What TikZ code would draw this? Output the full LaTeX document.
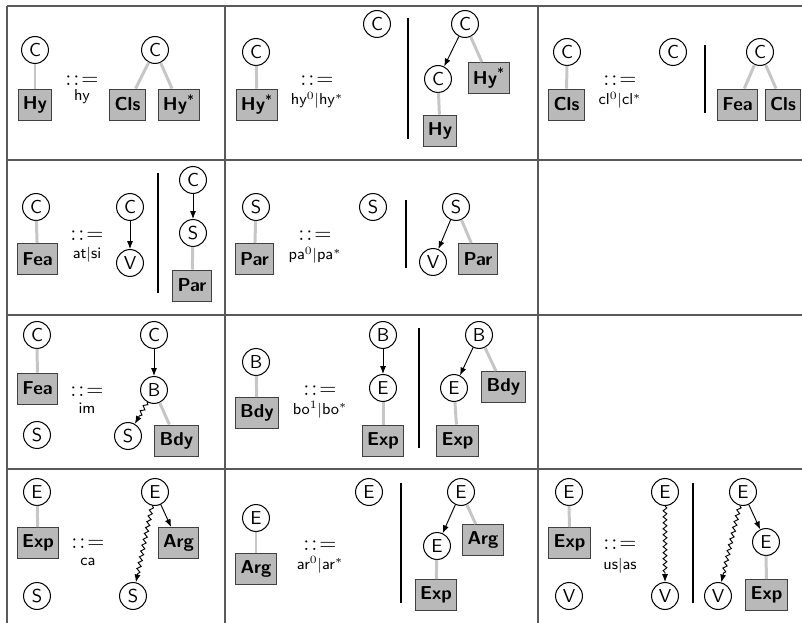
\documentclass[tikz,border=0pt]{standalone}
\usepackage{amsmath}
\usetikzlibrary{arrows.meta,decorations.pathmorphing}
\tikzset{
  nd/.style={circle,draw,line width=0.55pt,minimum size=14.4pt,inner sep=0pt,font=\sffamily},
  bx/.style={rectangle,draw=black!75,line width=0.5pt,fill=gray!55,minimum height=16.6pt,inner xsep=2.6pt,inner ysep=0pt,font=\sffamily\bfseries},
  tr/.style={draw=gray!45,line width=1.6pt},
  ar/.style={draw,line width=0.5pt,-{Latex[length=4.2pt,width=3.2pt]}},
  wv/.style={draw,line width=0.5pt,-{Latex[length=4.2pt,width=3.2pt]},decorate,decoration={snake,amplitude=1pt,segment length=3.2pt,post length=4.5pt}},
  br/.style={draw,line width=1.35pt},
  grd/.style={draw=black!65,line width=0.6pt},
  op/.style={inner sep=0pt,font=\large},
  lb/.style={inner sep=0pt,anchor=base,font=\fontsize{8.5}{10}\selectfont\sffamily}
}
\newcommand{\hs}{\textsuperscript{\mdseries *}}
\newcommand{\prodsym}{$:\mkern1.5mu:\mkern1.5mu=$}
\begin{document}
\begin{tikzpicture}[x=0.535pt,y=-0.535pt]
\useasboundingbox (0,0) rectangle (802,623);
% grid
\draw[grd] (7,6) -- (802,6);
\draw[grd] (7,160) -- (802,160);
\draw[grd] (7,315) -- (802,315);
\draw[grd] (7,469) -- (802,469);
\draw[grd] (7,6) -- (7,623);
\draw[grd] (225,6) -- (225,623);
\draw[grd] (538,6) -- (538,623);

% ---------- row 1 cell 1
\node[nd] (r1a) at (35,50) {C};
\node[bx] (r1b) at (35,104.5) {Hy};
\draw[tr] (r1a) -- (r1b);
\node[op] (r1o) at (82,81) {\prodsym};
\node[lb] (r1l) at (82,101) {hy};
\node[nd] (r1c) at (155,50) {C};
\node[bx] (r1d) at (127.5,104.5) {Cls};
\node[bx] (r1e) at (179,104.5) {Hy\hs};
\draw[tr] (r1c) -- (r1d);
\draw[tr] (r1c) -- (r1e);

% ---------- row 1 cell 2
\node[nd] (r2a) at (256,52) {C};
\node[bx] (r2b) at (257,104.5) {Hy\hs};
\draw[tr] (r2a) -- (r2b);
\node[op] (r2o) at (317,81) {\prodsym};
\node[lb] (r2l) at (317,105) {hy$^0|$hy$^*$};
\node[nd] (r2c) at (377,24) {C};
\coordinate (r2p) at (408,18); \coordinate (r2q) at (408,139);
\draw[br] (r2p) -- (r2q);
\node[nd] (r2d) at (465,24) {C};
\node[nd] (r2e) at (438,79) {C};
\node[bx] (r2f) at (489,78) {Hy\hs};
\node[bx] (r2g) at (440,130.5) {Hy};
\draw[tr] (r2d) -- (r2f);
\draw[tr] (r2e) -- (r2g);
\draw[ar] (r2d) -- (r2e);

% ---------- row 1 cell 3
\node[nd] (r3a) at (567,52) {C};
\node[bx] (r3b) at (566.5,104.5) {Cls};
\draw[tr] (r3a) -- (r3b);
\node[op] (r3o) at (620,81) {\prodsym};
\node[lb] (r3l) at (620,105) {cl$^0|$cl$^*$};
\node[nd] (r3c) at (673,52) {C};
\coordinate (r3p) at (705,45); \coordinate (r3q) at (705,113);
\draw[br] (r3p) -- (r3q);
\node[nd] (r3d) at (760,52) {C};
\node[bx] (r3e) at (737.5,104.5) {Fea};
\node[bx] (r3f) at (783,104.5) {Cls};
\draw[tr] (r3d) -- (r3e);
\draw[tr] (r3d) -- (r3f);

% ---------- row 2 cell 1
\node[nd] (s1a) at (36,207) {C};
\node[bx] (s1b) at (37.5,259) {Fea};
\draw[tr] (s1a) -- (s1b);
\node[op] (s1o) at (87,236) {\prodsym};
\node[lb] (s1l) at (87,259) {at$|$si};
\node[nd] (s1c) at (130,207) {C};
\node[nd] (s1d) at (130,263) {V};
\draw[ar] (s1c) -- (s1d);
\coordinate (s1p) at (158,173); \coordinate (s1q) at (158,293);
\draw[br] (s1p) -- (s1q);
\node[nd] (s1e) at (193,180) {C};
\node[nd] (s1f) at (193,233) {S};
\node[bx] (s1g) at (192,285.5) {Par};
\draw[tr] (s1f) -- (s1g);
\draw[ar] (s1e) -- (s1f);

% ---------- row 2 cell 2
\node[nd] (s2a) at (256,207) {S};
\node[bx] (s2b) at (254.5,259) {Par};
\draw[tr] (s2a) -- (s2b);
\node[op] (s2o) at (315,236) {\prodsym};
\node[lb] (s2l) at (315,260) {pa$^0|$pa$^*$};
\node[nd] (s2c) at (373,207) {S};
\coordinate (s2p) at (406,200); \coordinate (s2q) at (406,268);
\draw[br] (s2p) -- (s2q);
\node[nd] (s2d) at (456,207) {S};
\node[nd] (s2e) at (433,262) {V};
\node[bx] (s2f) at (478,259) {Par};
\draw[tr] (s2d) -- (s2f);
\draw[ar] (s2d) -- (s2e);

% ---------- row 3 cell 1
\node[nd] (t1a) at (37,335) {C};
\node[bx] (t1b) at (37.5,388.5) {Fea};
\draw[tr] (t1a) -- (t1b);
\node[nd] (t1c) at (37,435) {S};
\node[op] (t1o) at (87,392) {\prodsym};
\node[lb] (t1l) at (87,413) {im};
\node[nd] (t1d) at (154,335) {C};
\node[nd] (t1e) at (154,390) {B};
\node[nd] (t1f) at (128,436) {S};
\node[bx] (t1g) at (176.5,440.5) {Bdy};
\draw[tr] (t1e) -- (t1g);
\draw[ar] (t1d) -- (t1e);
\draw[wv] (t1e) -- (t1f);

% ---------- row 3 cell 2
\node[nd] (t2a) at (256,362) {B};
\node[bx] (t2b) at (257,413) {Bdy};
\draw[tr] (t2a) -- (t2b);
\node[op] (t2o) at (320,391) {\prodsym};
\node[lb] (t2l) at (320,414) {bo$^1|$bo$^*$};
\node[nd] (t2c) at (383,335) {B};
\node[nd] (t2d) at (383,388) {E};
\node[bx] (t2e) at (383,440.5) {Exp};
\draw[tr] (t2d) -- (t2e);
\draw[ar] (t2c) -- (t2d);
\coordinate (t2p) at (419,328); \coordinate (t2q) at (419,448);
\draw[br] (t2p) -- (t2q);
\node[nd] (t2f) at (479,335) {B};
\node[nd] (t2g) at (454,388) {E};
\node[bx] (t2h) at (503.5,387) {Bdy};
\node[bx] (t2i) at (457.5,440.5) {Exp};
\draw[tr] (t2f) -- (t2h);
\draw[tr] (t2g) -- (t2i);
\draw[ar] (t2f) -- (t2g);

% ---------- row 4 cell 1
\node[nd] (u1a) at (37,492) {E};
\node[bx] (u1b) at (38,543) {Exp};
\draw[tr] (u1a) -- (u1b);
\node[nd] (u1c) at (37,596) {S};
\node[op] (u1o) at (88,544) {\prodsym};
\node[lb] (u1l) at (88,565) {ca};
\node[nd] (u1d) at (155,492) {E};
\node[bx] (u1e) at (178.5,543) {Arg};
\node[nd] (u1f) at (133,596) {S};
\draw[ar] (u1d) -- (u1e);
\draw[wv] (u1d) -- (u1f);

% ---------- row 4 cell 2
\node[nd] (u2a) at (256,518) {E};
\node[bx] (u2b) at (256,569) {Arg};
\draw[tr] (u2a) -- (u2b);
\node[op] (u2o) at (320,546) {\prodsym};
\node[lb] (u2l) at (320,569) {ar$^0|$ar$^*$};
\node[nd] (u2c) at (369,492) {E};
\coordinate (u2p) at (401,483); \coordinate (u2q) at (401,603);
\draw[br] (u2p) -- (u2q);
\node[nd] (u2d) at (461,492) {E};
\node[nd] (u2e) at (437,546) {E};
\node[bx] (u2f) at (483,540) {Arg};
\node[bx] (u2g) at (436,595) {Exp};
\draw[tr] (u2d) -- (u2f);
\draw[tr] (u2e) -- (u2g);
\draw[ar] (u2d) -- (u2e);

% ---------- row 4 cell 3
\node[nd] (u3a) at (569,492) {E};
\node[bx] (u3b) at (569.5,543) {Exp};
\draw[tr] (u3a) -- (u3b);
\node[nd] (u3c) at (569,596) {V};
\node[op] (u3o) at (620,545) {\prodsym};
\node[lb] (u3l) at (620,569) {us$|$as};
\node[nd] (u3d) at (665,492) {E};
\node[nd] (u3e) at (665,596) {V};
\draw[wv] (u3d) -- (u3e);
\coordinate (u3p) at (693,483); \coordinate (u3q) at (693,603);
\draw[br] (u3p) -- (u3q);
\node[nd] (u3f) at (743,492) {E};
\node[nd] (u3g) at (766,542) {E};
\node[nd] (u3h) at (718,596) {V};
\node[bx] (u3i) at (766.5,595) {Exp};
\draw[tr] (u3g) -- (u3i);
\draw[ar] (u3f) -- (u3g);
\draw[wv] (u3f) -- (u3h);
\end{tikzpicture}
\end{document}
